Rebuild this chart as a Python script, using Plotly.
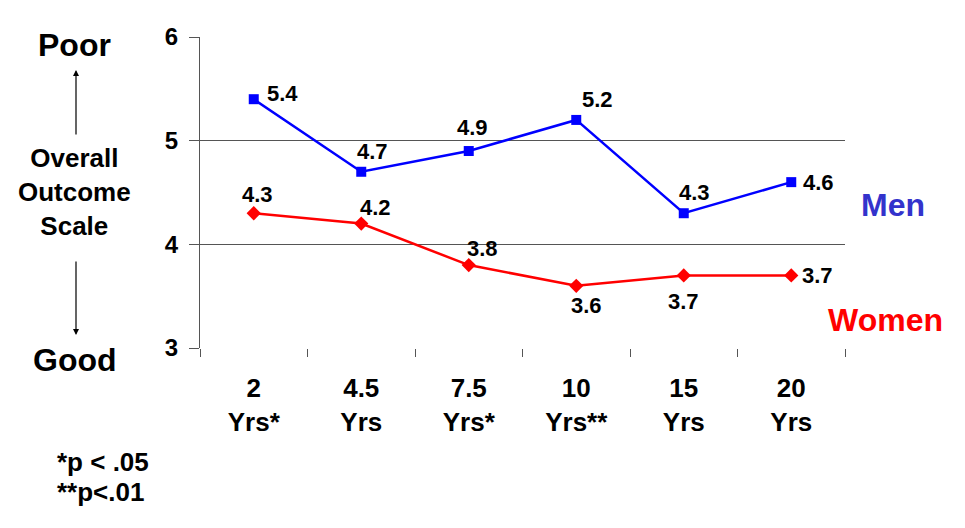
import plotly.graph_objects as go

# follow-up times (categories) and mean outcome scores
years = ["2<br>Yrs*", "4.5<br>Yrs", "7.5<br>Yrs*", "10<br>Yrs**", "15<br>Yrs", "20<br>Yrs"]
men = [5.4, 4.7, 4.9, 5.2, 4.3, 4.6]
women = [4.3, 4.2, 3.8, 3.6, 3.7, 3.7]
y_ticks = [3, 4, 5, 6]

# label offsets (pixels) for the value labels
men_shift = [(29, 6), (11, 20), (4, 24), (21, 20), (11, 21), (27, 0)]
women_shift = [(4, 19), (14, 16), (14, 17), (10, -20), (0, -26), (26, 0)]

FONT = "Liberation Sans, Arial, sans-serif"


def bold(size, color="black"):
    return dict(family=FONT, size=size, color=color, weight="bold")


fig = go.Figure()
fig.add_trace(go.Scatter(
    x=years, y=men, mode="lines+markers", name="Men",
    line=dict(color="#0000FF", width=2.5),
    marker=dict(symbol="square", size=10, color="#0000FF"),
    cliponaxis=False,
))
fig.add_trace(go.Scatter(
    x=years, y=women, mode="lines+markers", name="Women",
    line=dict(color="#FF0000", width=2.5),
    marker=dict(symbol="diamond", size=11, color="#FF0000"),
    cliponaxis=False,
))

annotations = []
for vals, shifts in [(men, men_shift), (women, women_shift)]:
    for cat, v, (dx, dy) in zip(years, vals, shifts):
        annotations.append(dict(
            x=cat, y=v, xref="x", yref="y", text=f"{v:.1f}", showarrow=False,
            xshift=dx, yshift=dy, font=bold(22),
        ))


def px(x, y):
    # page pixel -> paper coords (plot area 200..845 x 37..348)
    return (x - 200) / 645, 1 - (y - 37) / 311


notes = [
    dict(x=75, y=45, text="Poor", font=bold(32)),
    dict(x=75, y=192, text="Overall<br>Outcome<br>Scale", font=bold(26)),
    dict(x=75, y=360, text="Good", font=bold(32)),
    dict(x=893, y=205, text="Men", font=bold(32, "#3333CC")),
    dict(x=885, y=320, text="Women", font=bold(32, "#FF0000")),
    dict(x=55, y=462, text="*p < .05", font=bold(26), xanchor="left"),
    dict(x=55, y=492, text="**p<.01", font=bold(26), xanchor="left"),
]
for a in notes:
    d = dict(xref="paper", yref="paper", showarrow=False, xanchor="center",
             yanchor="middle", align="center")
    d.update(a)
    d["x"], d["y"] = px(a["x"], a["y"])
    annotations.append(d)

# arrows beside the scale label (head y, tail y)
for (head, tail) in [(70, 136), (335, 260)]:
    hx, hy = px(76, head)
    annotations.append(dict(
        xref="paper", yref="paper", axref="pixel", ayref="pixel",
        x=hx, y=hy, ax=0, ay=tail - head,
        text="", showarrow=True, arrowhead=2, arrowsize=1, arrowwidth=1.2, arrowcolor="black",
    ))

# page body has an 8px margin, so the figure is drawn 8px smaller
fig.update_layout(
    width=957, height=520,
    margin=dict(l=192, r=120, t=29, b=180),
    paper_bgcolor="white", plot_bgcolor="white",
    showlegend=False,
    annotations=annotations,
    xaxis=dict(
        type="category", range=[-0.5, 5.5], tickson="boundaries",
        ticks="outside", ticklen=8, tickcolor="#555", tickwidth=1,
        showgrid=False, showline=False, zeroline=False,
        tickfont=bold(26),
        ticklabelstandoff=22,
    ),
    yaxis=dict(
        range=[3, 6], tickvals=y_ticks, ticks="outside", ticklen=10, tickcolor="#555",
        showgrid=True, gridcolor="#555", gridwidth=1,
        showline=True, linecolor="#555", linewidth=1, zeroline=False,
        tickfont=bold(24),
        ticklabelstandoff=6,
    ),
)

fig.write_html("out.html")
